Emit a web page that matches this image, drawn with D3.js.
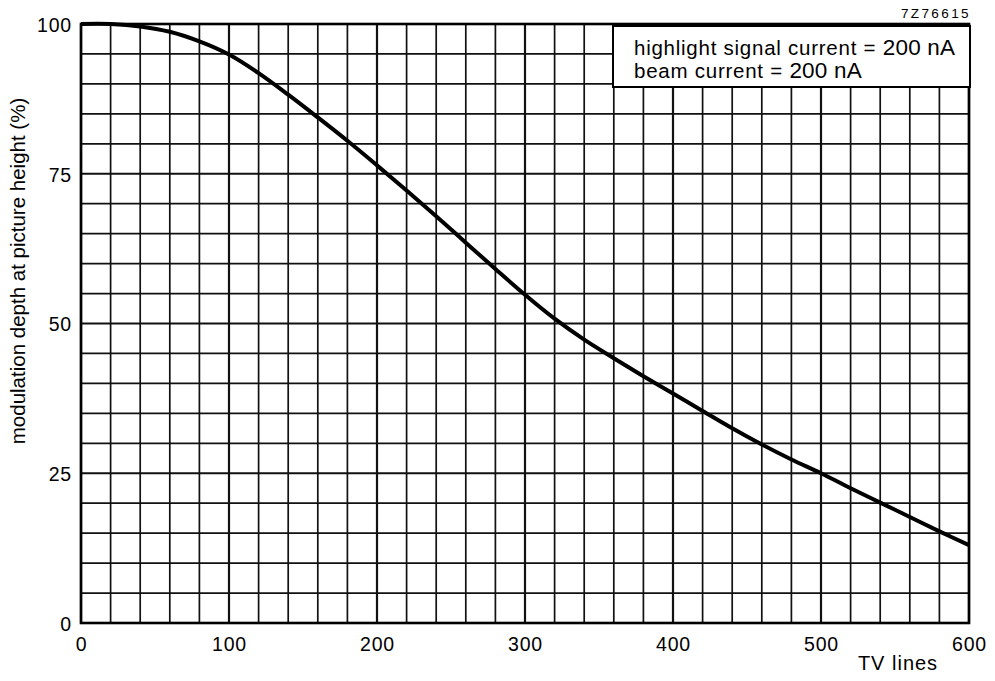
<!DOCTYPE html>
<html>
<head>
<meta charset="utf-8">
<script src="https://cdn.jsdelivr.net/npm/d3@7"></script>
<style>
  html, body { margin: 0; padding: 0; background: #fff; }
  svg { display: block; font-family: "Liberation Sans", Arial, sans-serif; }
</style>
</head>
<body>
<svg id="chart" width="995" height="681"></svg>
<script>
// ---- data ----
const tvLines = [0, 20, 40, 60, 80, 100, 120, 140, 160, 180, 200, 220, 240, 260, 280, 300,
                 320, 340, 360, 380, 400, 420, 440, 460, 480, 500, 520, 540, 560, 580, 600];
const modulation = [100, 100, 99.6, 98.7, 97.1, 94.9, 91.8, 88.2, 84.4, 80.5, 76.4, 72.2, 67.9, 63.5, 59.1, 54.8,
                    50.8, 47.3, 44.2, 41.2, 38.3, 35.4, 32.5, 29.8, 27.3, 25, 22.5, 20.1, 17.7, 15.3, 13];
const xTickLabels = [0, 100, 200, 300, 400, 500, 600];
const yTickLabels = [0, 25, 50, 75, 100];
const xMinorStep = 20;
const yMinorStep = 5;
const legendLines = [
  ["highlight signal current = ", "200 nA"],
  ["beam current = ", "200 nA"]
];
const figureCode = "7Z76615";
const xTitle = "TV lines";
const yTitle = "modulation depth at picture height  (%)";

// ---- layout ----
const svg = d3.select("#chart");
const x = d3.scaleLinear().domain([0, 600]).range([81, 969]);
const y = d3.scaleLinear().domain([0, 100]).range([623, 24]);

const g = svg.append("g");

// grid
const xGrid = d3.range(0, 600 + 1e-9, xMinorStep);
const yGrid = d3.range(0, 100 + 1e-9, yMinorStep);
g.selectAll("line.vg").data(xGrid).enter().append("line")
  .attr("x1", d => x(d)).attr("x2", d => x(d))
  .attr("y1", y(0)).attr("y2", y(100))
  .attr("stroke", "#111")
  .attr("stroke-width", d => d % 100 === 0 ? 2.2 : 1.7);
g.selectAll("line.hg").data(yGrid).enter().append("line")
  .attr("y1", d => y(d)).attr("y2", d => y(d))
  .attr("x1", x(0)).attr("x2", x(600))
  .attr("stroke", "#111")
  .attr("stroke-width", d => d % 25 === 0 ? 2.2 : 1.7);

// frame
g.append("rect")
  .attr("x", x(0)).attr("y", y(100))
  .attr("width", x(600) - x(0)).attr("height", y(0) - y(100))
  .attr("fill", "none").attr("stroke", "#000").attr("stroke-width", 2.6);

// curve
const pts = tvLines.map((t, i) => [t, modulation[i]]);
g.append("path")
  .datum(pts)
  .attr("fill", "none")
  .attr("stroke", "#000")
  .attr("stroke-width", 4)
  .attr("stroke-linejoin", "round")
  .attr("d", d3.line().x(d => x(d[0])).y(d => y(d[1])).curve(d3.curveCatmullRom.alpha(0.5)));

// axes (labels only)
const xAxis = d3.axisBottom(x).tickValues(xTickLabels).tickSize(0).tickPadding(0);
const xa = svg.append("g").attr("transform", `translate(0,${y(0)})`).call(xAxis);
xa.select(".domain").remove();
xa.selectAll("text")
  .attr("y", 28).attr("dy", null)
  .attr("font-size", 19.5).attr("letter-spacing", 0.8)
  .attr("font-family", "Liberation Sans, Arial, sans-serif")
  .attr("fill", "#000");

const yAxis = d3.axisLeft(y).tickValues(yTickLabels).tickSize(0).tickPadding(0);
const ya = svg.append("g").attr("transform", `translate(72,0)`).call(yAxis);
ya.select(".domain").remove();
ya.selectAll("text")
  .attr("x", 0).attr("dy", "0.38em")
  .attr("font-size", 19.5).attr("letter-spacing", 0.8)
  .attr("font-family", "Liberation Sans, Arial, sans-serif")
  .attr("fill", "#000");

// axis titles
svg.append("text")
  .attr("x", 898).attr("y", 670)
  .attr("text-anchor", "middle")
  .attr("font-size", 20).attr("letter-spacing", 1)
  .text(xTitle);

svg.append("text")
  .attr("transform", "translate(25,271) rotate(-90)")
  .attr("text-anchor", "middle")
  .attr("font-size", 20.5)
  .text(yTitle);

// figure code
svg.append("text")
  .attr("x", 971).attr("y", 18)
  .attr("text-anchor", "end")
  .attr("font-size", 13.5).attr("letter-spacing", 2.4)
  .text(figureCode);

// legend box
const lg = svg.append("g");
lg.append("rect")
  .attr("x", 613).attr("y", 26).attr("width", 357).attr("height", 61)
  .attr("fill", "#fff").attr("stroke", "#000").attr("stroke-width", 2);
legendLines.forEach((ln, i) => {
  const t = lg.append("text")
    .attr("x", 634).attr("y", 55 + i * 22.5)
    .attr("font-size", 20.5).attr("letter-spacing", 0.75);
  t.append("tspan").text(ln[0]);
  t.append("tspan").attr("font-size", 22.5).attr("letter-spacing", 0.2).text(ln[1]);
});
</script>
</body>
</html>
